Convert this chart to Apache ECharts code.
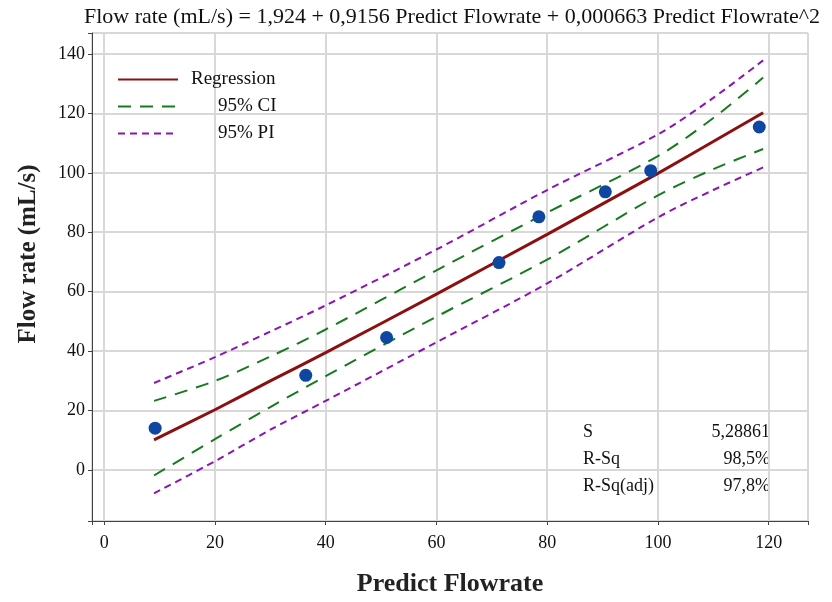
<!DOCTYPE html>
<html>
<head>
<meta charset="utf-8">
<script src="https://cdn.jsdelivr.net/npm/echarts@6/dist/echarts.min.js"></script>
<style>
  html, body { margin: 0; padding: 0; background: #fff; }
  #chart { width: 832px; height: 602px; }
</style>
</head>
<body>
<div id="chart"></div>
<script>
// observed points
var obsX = [9.2, 36.4, 51, 71.3, 78.5, 90.5, 98.7, 118.3];
var obsY = [14.1, 31.9, 44.6, 69.8, 85.2, 93.6, 100.7, 115.4];

// fitted line and bands
var fitX    = [9, 20, 30, 40, 60, 80, 100, 110, 119];
var fitY    = [10.2, 20.3, 30.0, 39.5, 59.2, 79.3, 99.8, 110.5, 120.2];
var ciUpper = [23.3, 30.0, 38.2, 47.3, 67.2, 86.6, 105.6, 118.4, 132.0];
var ciLower = [-1.8, 10.4, 21.2, 31.6, 51.6, 70.8, 92.4, 101.2, 108.0];
var piUpper = [29.3, 38.0, 46.6, 55.4, 74.2, 94.2, 112.9, 125.2, 137.8];
var piLower = [-7.8, 3.0, 13.6, 23.3, 43.0, 62.8, 85.0, 94.2, 101.8];

var statNames = ['S', 'R-Sq', 'R-Sq(adj)'];
var statValues = ['5,28861', '98,5%', '97,8%'];

var serif = '"Liberation Serif", "DejaVu Serif", serif';

function pairs(xs, ys) {
  var out = [];
  for (var i = 0; i < xs.length; i++) {
    out.push([xs[i], ys[i]]);
  }
  return out;
}

var chart = echarts.init(document.getElementById('chart'));

var extraGraphics = [];
for (var i = 0; i < statNames.length; i++) {
  extraGraphics.push({
    type: 'text', left: 583, top: 423 + i * 27,
    style: { text: statNames[i], font: '18px ' + serif, fill: '#111' }
  });
  extraGraphics.push({
    type: 'text', right: 62, top: 423 + i * 27,
    style: { text: statValues[i], font: '18px ' + serif, fill: '#111', textAlign: 'right' }
  });
}
// y axis title
extraGraphics.push({
  type: 'text', x: 29, y: 254, rotation: Math.PI / 2,
  style: {
    text: 'Flow rate (mL/s)', font: 'bold 25px ' + serif, fill: '#222',
    textAlign: 'center', textVerticalAlign: 'middle'
  }
});

var option = {
  backgroundColor: '#fff',
  animation: false,
  title: {
    text: 'Flow rate (mL/s) = 1,924 + 0,9156 Predict Flowrate + 0,000663 Predict Flowrate^2',
    left: 447, top: 1, textAlign: 'center',
    textStyle: { fontFamily: serif, fontSize: 22, fontWeight: 'normal', color: '#111' }
  },
  legend: {
    orient: 'vertical',
    left: 112, top: 65,
    itemWidth: 60, itemHeight: 14, itemGap: 8,
    data: ['Regression', '95% CI', '95% PI'],
    itemStyle: { color: 'rgba(0,0,0,0)', borderWidth: 0 },
    formatter: function (name) {
      return name === 'Regression' ? name : '{p|' + name + '}';
    },
    textStyle: {
      fontFamily: serif, fontSize: 19, color: '#111', padding: [0, 0, 0, 8],
      rich: { p: { fontFamily: serif, fontSize: 19, color: '#111', padding: [0, 0, 0, 27] } }
    }
  },
  grid: {
    left: 92, right: 24, top: 33, bottom: 80,
    show: true, borderColor: '#444', borderWidth: 1
  },
  xAxis: {
    type: 'value', min: -2.2, max: 127.1, splitNumber: 6,
    name: 'Predict Flowrate', nameLocation: 'middle', nameGap: 50,
    nameTextStyle: { fontFamily: serif, fontSize: 26, fontWeight: 'bold', color: '#222' },
    axisLine: { show: true, onZero: false, lineStyle: { color: '#444' } },
    axisTick: { show: true, length: 4, lineStyle: { color: '#444' } },
    axisLabel: {
      fontFamily: serif, fontSize: 18, color: '#111', margin: 13,
      formatter: function (v) { return v % 20 === 0 ? String(v) : ''; }
    },
    splitLine: { show: true, lineStyle: { color: '#d8d8d8', width: 2 } }
  },
  yAxis: {
    type: 'value', min: -17.1, max: 147, splitNumber: 8,
    axisLine: { show: true, onZero: false, lineStyle: { color: '#444' } },
    axisTick: { show: true, length: 4, lineStyle: { color: '#444' } },
    axisLabel: {
      fontFamily: serif, fontSize: 18, color: '#111', margin: 7,
      formatter: function (v) { return v % 20 === 0 ? String(v) : ''; }
    },
    splitLine: { show: true, lineStyle: { color: '#d8d8d8', width: 2 } }
  },
  graphic: extraGraphics,
  series: [
    {
      name: '95% PI', type: 'line', smooth: 0.3, symbol: 'none',
      data: pairs(fitX, piUpper),
      lineStyle: { color: '#8b14b4', width: 2, type: [7, 5] }, itemStyle: { color: '#8b14b4' }
    },
    {
      name: '95% PI', type: 'line', smooth: 0.3, symbol: 'none',
      data: pairs(fitX, piLower),
      lineStyle: { color: '#8b14b4', width: 2, type: [7, 5] }, itemStyle: { color: '#8b14b4' }
    },
    {
      name: '95% CI', type: 'line', smooth: 0.3, symbol: 'none',
      data: pairs(fitX, ciUpper),
      lineStyle: { color: '#177a1e', width: 2, type: [13, 9] }, itemStyle: { color: '#177a1e' }
    },
    {
      name: '95% CI', type: 'line', smooth: 0.3, symbol: 'none',
      data: pairs(fitX, ciLower),
      lineStyle: { color: '#177a1e', width: 2, type: [13, 9] }, itemStyle: { color: '#177a1e' }
    },
    {
      name: 'Regression', type: 'line', smooth: 0.2, symbol: 'none',
      data: pairs(fitX, fitY),
      lineStyle: { color: '#8c1010', width: 3 }, itemStyle: { color: '#8c1010' }
    },
    {
      name: 'Observed', type: 'scatter', symbol: 'circle', symbolSize: 13,
      data: pairs(obsX, obsY),
      itemStyle: { color: '#0d47a1', opacity: 1 }, z: 5
    }
  ]
};

chart.setOption(option);
</script>
</body>
</html>
